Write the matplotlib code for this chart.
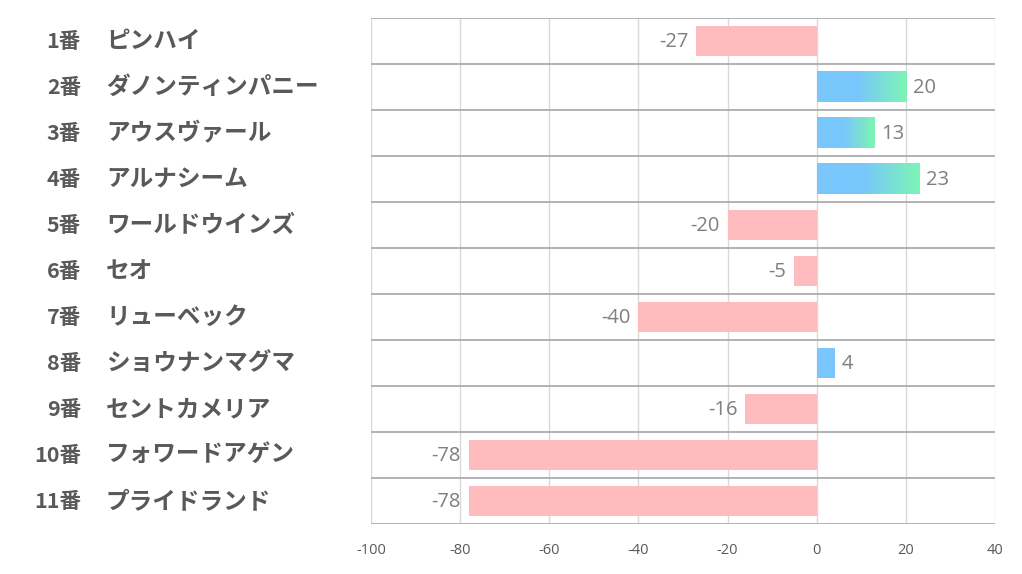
import matplotlib
matplotlib.use("Agg")
import matplotlib.pyplot as plt
import numpy as np
from matplotlib.colors import LinearSegmentedColormap

numbers = ["1番", "2番", "3番", "4番", "5番", "6番", "7番", "8番", "9番", "10番", "11番"]
names = ["ピンハイ", "ダノンティンパニー", "アウスヴァール", "アルナシーム", "ワールドウインズ",
         "セオ", "リューベック", "ショウナンマグマ", "セントカメリア", "フォワードアゲン", "プライドランド"]
values = [-27, 20, 13, 23, -20, -5, -40, 4, -16, -78, -78]
xticks = [-100, -80, -60, -40, -20, 0, 20, 40]

W, H = 1022, 574
fig = plt.figure(figsize=(W / 100, H / 100), dpi=100)
ax = fig.add_axes([371 / W, 1 - 524 / H, (995 - 371) / W, (524 - 18) / H])

n = len(values)
ax.set_xlim(-100, 40)
ax.set_ylim(n - 0.5, -0.5)

for x in xticks:
    ax.axvline(x, color="#d9d9d9", lw=1, zorder=0)
for i in range(n + 1):
    ax.axhline(i - 0.5, color="#a6a6a6", lw=1.2, zorder=0.5)

BLUE = "#79c7fc"
cmap = LinearSegmentedColormap.from_list(
    "g", [(0, BLUE), (0.45, BLUE), (1.0, "#7cf5b4")])
grad = np.linspace(0, 1, 256).reshape(1, -1)
bh = 0.66
lab_font = ["Open Sans", "DejaVu Sans"]
for i, v in enumerate(values):
    if v < 0:
        ax.barh(i, v, height=bh, color="#ffbcbf", zorder=2)
        ax.text(v - 1.8, i + 0.03, str(v), ha="right", va="center",
                fontsize=14.5, color="#7f7f7f", family=lab_font)
    else:
        if v >= 10:
            ax.imshow(grad, cmap=cmap, aspect="auto",
                      extent=[0, v, i + bh / 2, i - bh / 2], zorder=2)
        else:
            ax.barh(i, v, height=bh, color=BLUE, zorder=2)
        ax.text(v + 1.5, i + 0.03, str(v), ha="left", va="center",
                fontsize=14.5, color="#7f7f7f", family=lab_font)

ax.set_xlim(-100, 40)
ax.set_ylim(n - 0.5, -0.5)
ax.set_xticks(xticks)
ax.set_xticklabels([str(t) for t in xticks], fontsize=10.5, color="#595959",
                   family=lab_font)
ax.tick_params(axis="x", length=0, pad=14)
ax.set_yticks([])
for s in ax.spines.values():
    s.set_visible(False)

jp = ["Noto Sans CJK JP", "DejaVu Sans"]
for i in range(n):
    yfig = 1 - (18 + 46 * (i + 0.5)) / H
    fig.text(81 / W, yfig, numbers[i], ha="right", va="center", fontsize=15.5,
             fontweight="bold", color="#595959", family=jp)
    fig.text(106 / W, yfig, names[i], ha="left", va="center", fontsize=17,
             fontweight="bold", color="#595959", family=jp)

fig.savefig("out.png", dpi=100, facecolor="white")
